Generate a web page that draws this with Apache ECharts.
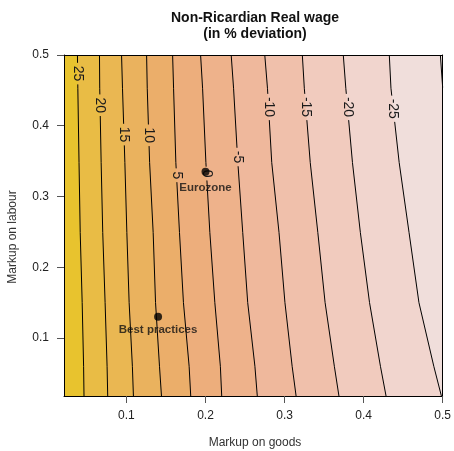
<!DOCTYPE html>
<html><head><meta charset="utf-8">
<script src="https://cdn.jsdelivr.net/npm/echarts@6/dist/echarts.min.js"></script>
<style>html,body{margin:0;padding:0;background:#fff}#c{width:454px;height:451px}</style>
</head><body><div id="c"></div>
<script>
// ---- data ----
const xRange = [0.021, 0.5];
const yRange = [0.018, 0.5];
const tickValues = [0.1, 0.2, 0.3, 0.4, 0.5];
const levels = [25, 20, 15, 10, 5, 0, -5, -10, -15, -20, -25, -30];
// y positions at which each contour's x was read
const yRead = [0.5, 0.453, 0.348, 0.249, 0.150, 0.060, 0.018];
const x25  = [0.0380, 0.0385, 0.0400, 0.0415, 0.0440, 0.0458, 0.0463];
const x20  = [0.0659, 0.0662, 0.0680, 0.0700, 0.0730, 0.0755, 0.0763];
const x15  = [0.0938, 0.0950, 0.0980, 0.1005, 0.1034, 0.1075, 0.1088];
const x10  = [0.1255, 0.1263, 0.1293, 0.1338, 0.1368, 0.1418, 0.1443];
const x5   = [0.1584, 0.1596, 0.1625, 0.1671, 0.1721, 0.1793, 0.1813];
const x0   = [0.1938, 0.1963, 0.2005, 0.2055, 0.2118, 0.2188, 0.2205];
const xm5  = [0.2325, 0.2355, 0.2409, 0.2471, 0.2534, 0.2625, 0.2655];
const xm10 = [0.2750, 0.2784, 0.2838, 0.2930, 0.3005, 0.3096, 0.3146];
const xm15 = [0.3225, 0.3250, 0.3325, 0.3421, 0.3513, 0.3630, 0.3688];
const xm20 = [0.3743, 0.3775, 0.3859, 0.3959, 0.4075, 0.4213, 0.4284];
const xm25 = [0.4325, 0.4346, 0.4450, 0.4575, 0.4700, 0.4888, 0.4984];
const xm30 = [0.4971, 0.5];
const ym30 = [0.5, 0.454];
// y at which each contour label sits (null = no label)
const labelY = [0.4737, 0.429, 0.3875, 0.3865, 0.330, 0.3324, 0.3558, 0.4265, 0.4265, 0.4265, 0.424, null];
// band colours, left (highest) to right (lowest)
const bandColors = ['#E8C32E','#E9BC45','#EAB752','#EAB25E','#EBAE6A','#EDAE7C','#EEB28B','#EFB89C','#F0C0AB','#F1CBBE','#F1D5CE','#F0DEDB','#F0E2E0'];
const pointNames = ['Eurozone', 'Best practices'];
const pointX = [0.2, 0.14];
const pointY = [0.335, 0.13];

// ---- build contour point lists ----
const xCols = [x25, x20, x15, x10, x5, x0, xm5, xm10, xm15, xm20, xm25];
const contours = xCols.map(xs => xs.map((x, i) => [x, yRead[i]]));
contours.push(xm30.map((x, i) => [x, ym30[i]]));

function xAtY(pts, y) {
  for (let i = 0; i < pts.length - 1; i++) {
    const a = pts[i], b = pts[i + 1];
    if ((y <= a[1] && y >= b[1])) {
      const t = (a[1] - y) / (a[1] - b[1]);
      return a[0] + t * (b[0] - a[0]);
    }
  }
  return pts[0][0];
}

const FONT = '"Liberation Sans", Arial, sans-serif';
const labelFs = 14;
const plotH = 451 - 55 - 55;
const pxPerY = plotH / (yRange[1] - yRange[0]);

const series = [];
// filled bands
series.push({
  type: 'custom', z: 1, silent: true, clip: true,
  data: [[0]],
  renderItem: function (params, api) {
    const children = [];
    const rect = [[xRange[0], yRange[1]], [xRange[1], yRange[1]], [xRange[1], yRange[0]], [xRange[0], yRange[0]]];
    children.push({ type: 'polygon', shape: { points: rect.map(p => api.coord(p)) }, style: { fill: bandColors[0] } });
    contours.forEach((pts, k) => {
      const first = pts[0], last = pts[pts.length - 1];
      const poly = pts.concat([[xRange[1], last[1]], [xRange[1], first[1]]]);
      children.push({ type: 'polygon', shape: { points: poly.map(p => api.coord(p)) }, style: { fill: bandColors[k + 1] } });
    });
    return { type: 'group', children: children };
  }
});

// contour lines (broken at labels)
const labelItems = [];
contours.forEach((pts, k) => {
  const ly = labelY[k];
  let segs = [pts];
  if (ly != null) {
    const txt = String(levels[k]);
    let w = 0; for (const ch of txt) w += (ch === '-' ? 0.333 : 0.556) * labelFs;
    const g = (w / 2 + 3) / pxPerY;
    const hi = ly + g, lo = ly - g;
    const a = pts.filter(p => p[1] > hi); a.push([xAtY(pts, hi), hi]);
    const b = [[xAtY(pts, lo), lo]].concat(pts.filter(p => p[1] < lo));
    segs = [a, b];
    labelItems.push([xAtY(pts, ly), ly, k]);
  }
  segs.forEach(s => series.push({
    type: 'line', z: 2, silent: true, symbol: 'none', animation: false,
    lineStyle: { color: '#000', width: 1 }, data: s
  }));
});

// contour labels
series.push({
  type: 'custom', z: 3, silent: true,
  data: labelItems,
  renderItem: function (params, api) {
    const p = api.coord([api.value(0), api.value(1)]);
    return {
      type: 'text', x: p[0], y: p[1], rotation: -Math.PI / 2,
      style: { text: String(levels[api.value(2)]), font: labelFs + 'px ' + FONT, fill: '#1a1a1a', align: 'center', verticalAlign: 'middle' }
    };
  }
});

// points
series.push({
  type: 'scatter', z: 4, symbol: 'circle', symbolSize: 8, animation: false,
  itemStyle: { color: '#000' },
  data: pointNames.map((n, i) => ({
    name: n, value: [pointX[i], pointY[i]],
    label: { distance: i === 0 ? 6 : 3 }
  })),
  label: { show: true, position: 'bottom', formatter: '{b}', color: '#111', fontFamily: FONT, fontSize: 11.5, fontWeight: 'bold' }
});

const chart = echarts.init(document.getElementById('c'), null, { renderer: 'canvas' });
const axisCommon = { type: 'value', z: 10 };
chart.setOption({
  animation: false,
  backgroundColor: '#fff',
  grid: { left: 64, right: 7, top: 55, bottom: 55 },
  xAxis: [
    Object.assign({}, axisCommon, {
      min: xRange[0], max: xRange[1], position: 'bottom',
      splitLine: { show: false },
      axisLine: { show: true, lineStyle: { color: '#000', width: 1 } },
      axisTick: { show: true, length: 7, inside: false, customValues: tickValues, lineStyle: { color: '#555' } },
      axisLabel: { show: true, customValues: tickValues, margin: 14, color: '#222', fontSize: 12, fontFamily: FONT, formatter: v => v.toFixed(1) }
    }),
    Object.assign({}, axisCommon, {
      min: xRange[0], max: xRange[1], position: 'top',
      splitLine: { show: false }, axisTick: { show: false }, axisLabel: { show: false },
      axisLine: { show: true, lineStyle: { color: '#000', width: 1 } }
    })
  ],
  yAxis: [
    Object.assign({}, axisCommon, {
      min: yRange[0], max: yRange[1], position: 'left',
      splitLine: { show: false },
      axisLine: { show: true, lineStyle: { color: '#000', width: 1 } },
      axisTick: { show: true, length: 7, inside: false, customValues: tickValues, lineStyle: { color: '#555' } },
      axisLabel: { show: true, customValues: tickValues, margin: 15, color: '#222', fontSize: 12, fontFamily: FONT, formatter: v => v.toFixed(1) }
    }),
    Object.assign({}, axisCommon, {
      min: yRange[0], max: yRange[1], position: 'right',
      splitLine: { show: false }, axisTick: { show: false }, axisLabel: { show: false },
      axisLine: { show: true, lineStyle: { color: '#000', width: 1 } }
    })
  ],
  graphic: [
    { type: 'text', x: 255, y: 18, style: { text: 'Non-Ricardian Real wage', font: 'bold 14px ' + FONT, fill: '#111', align: 'center', verticalAlign: 'middle' } },
    { type: 'text', x: 255, y: 34, style: { text: '(in % deviation)', font: 'bold 14px ' + FONT, fill: '#111', align: 'center', verticalAlign: 'middle' } },
    { type: 'text', x: 255, y: 443, style: { text: 'Markup on goods', font: '12px ' + FONT, fill: '#333', align: 'center', verticalAlign: 'middle' } },
    { type: 'text', x: 13, y: 237, rotation: Math.PI / 2, style: { text: 'Markup on labour', font: '12px ' + FONT, fill: '#333', align: 'center', verticalAlign: 'middle' } }
  ],
  series: series
});
</script></body></html>
